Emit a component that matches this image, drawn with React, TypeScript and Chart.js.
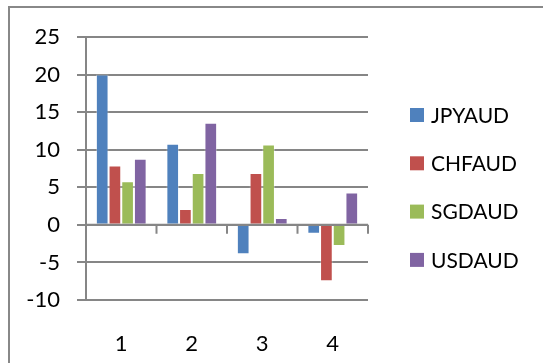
import React, { useEffect, useRef } from "react";
import { Chart, registerables } from "chart.js";

Chart.register(...registerables);

const categories = ["1", "2", "3", "4"];
const seriesNames = ["JPYAUD", "CHFAUD", "SGDAUD", "USDAUD"];
const jpyaud = [20.0, 10.8, -3.9, -1.2];
const chfaud = [7.9, 2.1, 6.9, -7.5];
const sgdaud = [5.8, 6.9, 10.7, -2.8];
const usdaud = [8.8, 13.6, 0.9, 4.3];
const seriesColors = ["#4F81BD", "#C0504D", "#9BBB59", "#8064A2"];
const yMin = -10;
const yMax = 25;
const yStep = 5;

const FONT = "Lato, 'Open Sans', sans-serif";
const GRID = "#868686";

const zeroTicksPlugin = {
  id: "zeroTicks",
  afterDatasetsDraw(chart: any) {
    const { ctx, chartArea, scales } = chart;
    const y0 = scales.y.getPixelForValue(0);
    const n = categories.length;
    const w = (chartArea.right - chartArea.left) / n;
    ctx.save();
    ctx.strokeStyle = GRID;
    ctx.lineWidth = 2;
    ctx.beginPath();
    ctx.moveTo(chartArea.left, y0);
    ctx.lineTo(chartArea.right, y0);
    for (let i = 1; i <= n; i++) {
      const x = chartArea.left + i * w;
      ctx.moveTo(x, y0);
      ctx.lineTo(x, y0 + 9);
    }
    ctx.stroke();
    ctx.restore();
  },
};

const legendPlugin = {
  id: "sideLegend",
  afterDraw(chart: any) {
    const { ctx } = chart;
    const x0 = 410;
    const top = 115;
    const gap = 48.3;
    ctx.save();
    ctx.font = `21px ${FONT}`;
    ctx.textBaseline = "middle";
    ctx.textAlign = "left";
    chart.data.datasets.forEach((ds: any, i: number) => {
      const cy = top + i * gap;
      ctx.fillStyle = ds.backgroundColor;
      ctx.fillRect(x0, cy - 7, 14, 14);
      ctx.fillStyle = "#000";
      ctx.fillText(ds.label, x0 + 21, cy + 1);
    });
    ctx.restore();
  },
};

export default function App() {
  const ref = useRef<HTMLCanvasElement | null>(null);

  useEffect(() => {
    if (!ref.current) return;
    const values = [jpyaud, chfaud, sgdaud, usdaud];
    const chart = new Chart(ref.current, {
      type: "bar",
      data: {
        labels: categories,
        datasets: seriesNames.map((name, i) => ({
          label: name,
          data: values[i],
          backgroundColor: seriesColors[i],
          borderColor: "rgba(255,255,255,0.35)",
          borderWidth: 1,
          categoryPercentage: 0.72,
          barPercentage: 1.0,
        })),
      },
      options: {
        animation: false,
        responsive: false,
        devicePixelRatio: 1,
        layout: { padding: { top: 37, right: 175, left: 0, bottom: 0 } },
        plugins: {
          legend: { display: false },
          tooltip: { enabled: false },
        },
        scales: {
          x: {
            grid: { display: false },
            border: { display: false },
            ticks: {
              color: "#000",
              font: { family: FONT, size: 22 },
              padding: 23,
            },
            afterFit: (s: any) => {
              s.height = 63;
            },
          },
          y: {
            min: yMin,
            max: yMax,
            grid: {
              color: GRID,
              lineWidth: 2,
              tickLength: 9,
              drawTicks: true,
            },
            border: { display: true, color: GRID, width: 2 },
            ticks: {
              stepSize: yStep,
              color: "#000",
              font: { family: FONT, size: 22 },
              padding: 17,
            },
            afterFit: (s: any) => {
              s.width = 86;
            },
          },
        },
      },
      plugins: [zeroTicksPlugin, legendPlugin],
    });
    return () => chart.destroy();
  }, []);

  return (
    <div
      style={{
        position: "fixed",
        left: 0,
        top: 0,
        width: 543,
        height: 363,
        overflow: "hidden",
        background: "#fff",
      }}
    >
      <div
        style={{
          position: "absolute",
          left: 8,
          top: 6,
          width: 640,
          height: 460,
          border: "2px solid #888",
          boxSizing: "border-box",
        }}
      />
      <canvas
        ref={ref}
        width={543}
        height={363}
        style={{ position: "absolute", left: 0, top: 0 }}
      />
    </div>
  );
}
